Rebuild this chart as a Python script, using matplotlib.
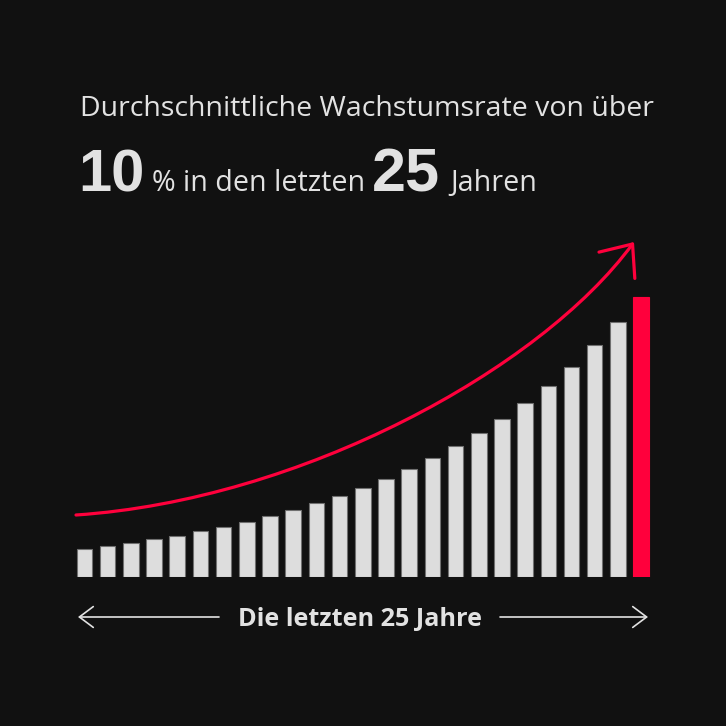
import matplotlib.pyplot as plt
from matplotlib.patches import FancyArrowPatch
from matplotlib.path import Path

# bar heights (relative units)
years = list(range(1, 26))
values = [28.3, 31, 34.3, 38, 41.3, 46, 50.3, 55.3, 61, 67.3, 74, 81, 89.3,
          98.3, 108.3, 119, 131, 144, 158.3, 174.3, 191.6, 210.6, 232, 255, 280.6]
bar_colors = ["#dddddd"] * 24 + ["#ff003c"]
edge_colors = ["#707070"] * 24 + ["#ff003c"]

title_line = "Durchschnittliche Wachstumsrate von über"
big_rate = "10"
big_years = "25"
axis_label = "Die letzten 25 Jahre"

# trend arrow (pixel coords, y from top)
curve_x = [76, 300, 540, 634]
curve_y = [515, 500, 370, 242]

bg = "#111111"
fg = "#e2e2e2"
red = "#ff003c"
W = 726

fig = plt.figure(figsize=(7.26, 7.26), dpi=100, facecolor=bg)

# bars
ax = fig.add_axes([72.9 / W, (W - 577.3) / W, 579.8 / W, 300 / W])
ax.set_facecolor(bg)
ax.bar(range(len(values)), values, width=0.67, color=bar_colors,
       edgecolor=edge_colors, linewidth=0.8)
ax.set_xlim(-0.5, 24.5)
ax.set_ylim(0, 300)
ax.axis("off")

# overlay in pixel coordinates
ov = fig.add_axes([0, 0, 1, 1], facecolor="none")
ov.set_xlim(0, W)
ov.set_ylim(W, 0)
ov.axis("off")

verts = list(zip(curve_x, curve_y))
path = Path(verts, [Path.MOVETO, Path.CURVE4, Path.CURVE4, Path.CURVE4])
arr = FancyArrowPatch(path=path, arrowstyle="->,head_length=19,head_width=16",
                      color=red, lw=2.3, mutation_scale=1)
ov.add_patch(arr)

# titles
ov.text(80, 116, title_line, fontsize=20.5, color=fg, family="Open Sans",
        va="baseline", ha="left")
ov.text(78, 191, big_rate, fontsize=43, color=fg, family="Liberation Sans",
        weight="bold", va="baseline", ha="left")
ov.text(152, 191, "% in den letzten", fontsize=20.6, color=fg, family="Open Sans",
        va="baseline", ha="left")
ov.text(372, 191, big_years, fontsize=44, color=fg, family="Liberation Sans",
        weight="bold", va="baseline", ha="left")
ov.text(450, 191, "Jahren", fontsize=20.6, color=fg, family="Open Sans",
        va="baseline", ha="left")

# bottom span arrows
ov.annotate("", xy=(78, 617), xytext=(219, 617),
            arrowprops=dict(arrowstyle="->,head_length=10,head_width=7.5",
                            color=fg, lw=1.2, mutation_scale=1, shrinkA=0, shrinkB=0))
ov.annotate("", xy=(648, 617), xytext=(500, 617),
            arrowprops=dict(arrowstyle="->,head_length=10,head_width=7.5",
                            color=fg, lw=1.2, mutation_scale=1, shrinkA=0, shrinkB=0))
ov.text(360, 626, axis_label, fontsize=18.2, color=fg, family="Open Sans",
        weight="bold", va="baseline", ha="center")

fig.savefig("out.png", dpi=100, facecolor=bg)
